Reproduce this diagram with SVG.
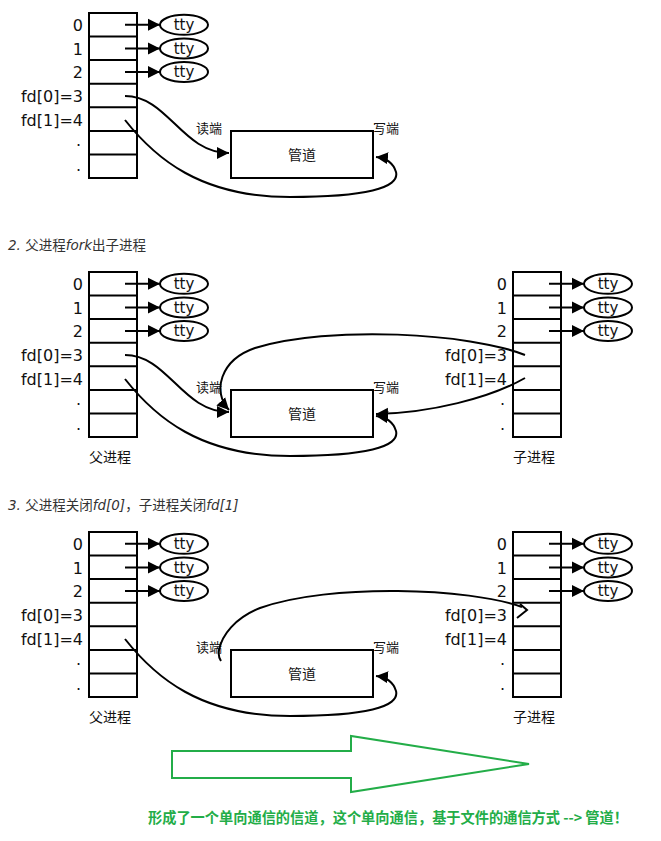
<svg xmlns="http://www.w3.org/2000/svg" width="661" height="841" viewBox="0 0 661 841">
<style>
.bx{fill:#fff;stroke:#000;stroke-width:2}
.ln{fill:none;stroke:#000;stroke-width:2}
.cv{fill:none;stroke:#000;stroke-width:2;marker-end:url(#ah)}
.lb{font-family:"DejaVu Sans","Noto Sans CJK SC",sans-serif;font-size:16px;fill:#111;text-anchor:end}
.tt{font-family:"DejaVu Sans",sans-serif;font-size:15px;fill:#111;text-anchor:middle}
.cj{font-family:"Noto Sans CJK SC",sans-serif;font-size:13px;fill:#111}
.cm{font-family:"Noto Sans CJK SC",sans-serif;font-size:14px;fill:#111;text-anchor:middle}
.hd{font-family:"DejaVu Sans","Noto Sans CJK SC",sans-serif;font-size:13.5px;fill:#333}
.gr{font-family:"Noto Sans CJK SC",sans-serif;font-size:14.5px;font-weight:bold;fill:#23ad48}
</style>
<defs>
<marker id="ah" markerUnits="userSpaceOnUse" markerWidth="13" markerHeight="13" refX="12" refY="6" orient="auto" viewBox="0 0 13 12">
<path d="M0,0 L12,6 L0,12 z" fill="#000"/>
</marker>
</defs>

<!-- Section 1 -->
<g id="parent1" transform="translate(89,13)">
<rect class="bx" x="0" y="0" width="48" height="165"/>
<path class="ln" d="M0,23.6H48M0,47.1H48M0,70.7H48M0,94.3H48M0,117.9H48M0,141.4H48"/>
<path class="cv" d="M36,11.8H71"/><path class="cv" d="M36,35.4H71"/><path class="cv" d="M36,58.9H71"/>
<ellipse class="bx" cx="95" cy="11.8" rx="24" ry="10"/>
<ellipse class="bx" cx="95" cy="35.4" rx="24" ry="10"/>
<ellipse class="bx" cx="95" cy="58.9" rx="24" ry="10"/>
<text class="tt" x="95" y="17">tty</text>
<text class="tt" x="95" y="40.6">tty</text>
<text class="tt" x="95" y="64.1">tty</text>
<text class="lb" x="-6" y="18.3">0</text>
<text class="lb" x="-6" y="41.9">1</text>
<text class="lb" x="-6" y="65.4">2</text>
<text class="lb" x="-6" y="89">fd[0]=3</text>
<text class="lb" x="-6" y="112.6">fd[1]=4</text>
<text class="lb" x="-8" y="133">.</text>
<text class="lb" x="-8" y="158">.</text>
</g>
<g id="pipe1">
<rect class="bx" x="231" y="131" width="142" height="47"/>
<text class="cm" x="302" y="160">管道</text>
<text class="cj" x="196" y="133">读端</text>
<text class="cj" x="373" y="133">写端</text>
</g>

<!-- Section 2 -->
<text class="hd" x="8" y="250"><tspan font-style="italic">2.</tspan> 父进程<tspan font-style="italic">fork</tspan>出子进程</text>
<g id="parent2" transform="translate(89,272)">
<rect class="bx" x="0" y="0" width="48" height="165"/>
<path class="ln" d="M0,23.6H48M0,47.1H48M0,70.7H48M0,94.3H48M0,117.9H48M0,141.4H48"/>
<path class="cv" d="M36,11.8H71"/><path class="cv" d="M36,35.4H71"/><path class="cv" d="M36,58.9H71"/>
<ellipse class="bx" cx="95" cy="11.8" rx="24" ry="10"/>
<ellipse class="bx" cx="95" cy="35.4" rx="24" ry="10"/>
<ellipse class="bx" cx="95" cy="58.9" rx="24" ry="10"/>
<text class="tt" x="95" y="17">tty</text>
<text class="tt" x="95" y="40.6">tty</text>
<text class="tt" x="95" y="64.1">tty</text>
<text class="lb" x="-6" y="18.3">0</text>
<text class="lb" x="-6" y="41.9">1</text>
<text class="lb" x="-6" y="65.4">2</text>
<text class="lb" x="-6" y="89">fd[0]=3</text>
<text class="lb" x="-6" y="112.6">fd[1]=4</text>
<text class="lb" x="-8" y="133">.</text>
<text class="lb" x="-8" y="158">.</text>
<text class="cm" x="21" y="190">父进程</text>
</g>
<g id="child2" transform="translate(513,272)">
<rect class="bx" x="0" y="0" width="48" height="165"/>
<path class="ln" d="M0,23.6H48M0,47.1H48M0,70.7H48M0,94.3H48M0,117.9H48M0,141.4H48"/>
<path class="cv" d="M36,11.8H71"/><path class="cv" d="M36,35.4H71"/><path class="cv" d="M36,58.9H71"/>
<ellipse class="bx" cx="95" cy="11.8" rx="24" ry="10"/>
<ellipse class="bx" cx="95" cy="35.4" rx="24" ry="10"/>
<ellipse class="bx" cx="95" cy="58.9" rx="24" ry="10"/>
<text class="tt" x="95" y="17">tty</text>
<text class="tt" x="95" y="40.6">tty</text>
<text class="tt" x="95" y="64.1">tty</text>
<text class="lb" x="-6" y="18.3">0</text>
<text class="lb" x="-6" y="41.9">1</text>
<text class="lb" x="-6" y="65.4">2</text>
<text class="lb" x="-6" y="89">fd[0]=3</text>
<text class="lb" x="-6" y="112.6">fd[1]=4</text>
<text class="lb" x="-8" y="133">.</text>
<text class="lb" x="-8" y="158">.</text>
<text class="cm" x="21" y="190">子进程</text>
</g>
<g id="pipe2">
<rect class="bx" x="231" y="390" width="142" height="47"/>
<text class="cm" x="302" y="419">管道</text>
<text class="cj" x="196" y="392">读端</text>
<text class="cj" x="373" y="392">写端</text>
</g>

<!-- Section 3 -->
<text class="hd" x="8" y="510"><tspan font-style="italic">3.</tspan> 父进程关闭<tspan font-style="italic">fd[0]</tspan>，子进程关闭<tspan font-style="italic">fd[1]</tspan></text>
<g id="parent3" transform="translate(89,532)">
<rect class="bx" x="0" y="0" width="48" height="165"/>
<path class="ln" d="M0,23.6H48M0,47.1H48M0,70.7H48M0,94.3H48M0,117.9H48M0,141.4H48"/>
<path class="cv" d="M36,11.8H71"/><path class="cv" d="M36,35.4H71"/><path class="cv" d="M36,58.9H71"/>
<ellipse class="bx" cx="95" cy="11.8" rx="24" ry="10"/>
<ellipse class="bx" cx="95" cy="35.4" rx="24" ry="10"/>
<ellipse class="bx" cx="95" cy="58.9" rx="24" ry="10"/>
<text class="tt" x="95" y="17">tty</text>
<text class="tt" x="95" y="40.6">tty</text>
<text class="tt" x="95" y="64.1">tty</text>
<text class="lb" x="-6" y="18.3">0</text>
<text class="lb" x="-6" y="41.9">1</text>
<text class="lb" x="-6" y="65.4">2</text>
<text class="lb" x="-6" y="89">fd[0]=3</text>
<text class="lb" x="-6" y="112.6">fd[1]=4</text>
<text class="lb" x="-8" y="133">.</text>
<text class="lb" x="-8" y="158">.</text>
<text class="cm" x="21" y="190">父进程</text>
</g>
<g id="child3" transform="translate(513,532)">
<rect class="bx" x="0" y="0" width="48" height="165"/>
<path class="ln" d="M0,23.6H48M0,47.1H48M0,70.7H48M0,94.3H48M0,117.9H48M0,141.4H48"/>
<path class="cv" d="M36,11.8H71"/><path class="cv" d="M36,35.4H71"/><path class="cv" d="M36,58.9H71"/>
<ellipse class="bx" cx="95" cy="11.8" rx="24" ry="10"/>
<ellipse class="bx" cx="95" cy="35.4" rx="24" ry="10"/>
<ellipse class="bx" cx="95" cy="58.9" rx="24" ry="10"/>
<text class="tt" x="95" y="17">tty</text>
<text class="tt" x="95" y="40.6">tty</text>
<text class="tt" x="95" y="64.1">tty</text>
<text class="lb" x="-6" y="18.3">0</text>
<text class="lb" x="-6" y="41.9">1</text>
<text class="lb" x="-6" y="65.4">2</text>
<text class="lb" x="-6" y="89">fd[0]=3</text>
<text class="lb" x="-6" y="112.6">fd[1]=4</text>
<text class="lb" x="-8" y="133">.</text>
<text class="lb" x="-8" y="158">.</text>
<text class="cm" x="21" y="190">子进程</text>
</g>
<g id="pipe3">
<rect class="bx" x="231" y="650" width="142" height="47"/>
<text class="cm" x="302" y="679">管道</text>
<text class="cj" x="196" y="652">读端</text>
<text class="cj" x="373" y="652">写端</text>
</g>

<g id="connectors">
<path class="cv" d="M125,96 C168,96 182,153 229,153"/>
<path class="cv" d="M125,120 C155,158 200,197 290,197 C365,197 400,188 396,172 C393,162 385,158 376,157"/>
<path class="cv" d="M125,355 C168,355 182,412 229,412"/>
<path class="cv" d="M125,379 C155,417 200,456 290,456 C365,456 400,447 396,431 C393,421 385,417 376,416"/>
<path class="cv" d="M525,355 C470,333 330,325 255,348 C220,360 212,392 229,410"/>
<path class="cv" d="M525,378 C490,398 430,413 376,414"/>
<path class="cv" d="M125,639 C155,677 200,716 290,716 C365,716 400,707 396,691 C393,681 385,677 376,676"/>
<path class="ln" d="M522,607 C470,588 330,583 260,608 C235,618 222,635 219,650 C218,655 219,658 221,661"/>
<path class="ln" d="M520,604 L527,610 L517,618"/>
</g>

<g id="green-arrow">
<polygon points="172,751 351,751 351,736 529,764 351,792 351,778 172,778" fill="none" stroke="#23ad48" stroke-width="2"/>
</g>
<text class="gr" x="148" y="823" textLength="480" lengthAdjust="spacingAndGlyphs">形成了一个单向通信的信道，这个单向通信，基于文件的通信方式 --&gt; 管道！</text>
</svg>
